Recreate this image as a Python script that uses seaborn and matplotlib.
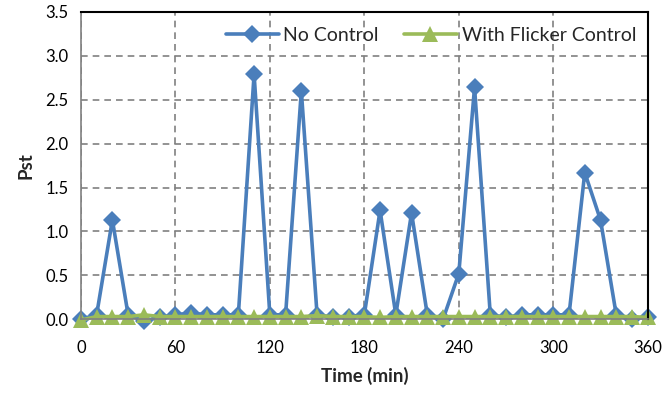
import matplotlib
matplotlib.use("Agg")
import matplotlib.pyplot as plt
import seaborn as sns
import pandas as pd
import numpy as np
from matplotlib.ticker import MultipleLocator

time_min = list(range(0, 361, 10))
no_control = [0.00, 0.05, 1.13, 0.05, -0.02, 0.02, 0.05, 0.07, 0.05, 0.05,
              0.05, 2.79, 0.05, 0.05, 2.60, 0.05, 0.02, 0.03, 0.05, 1.24,
              0.05, 1.21, 0.05, 0.00, 0.52, 2.64, 0.05, 0.02, 0.05, 0.05,
              0.05, 0.05, 1.67, 1.13, 0.05, 0.00, 0.03]
with_flicker = [-0.01, 0.03, 0.03, 0.03, 0.05, 0.03, 0.03, 0.03, 0.03, 0.03,
                0.03, 0.03, 0.03, 0.03, 0.03, 0.04, 0.03, 0.03, 0.03, 0.02,
                0.03, 0.03, 0.03, 0.03, 0.03, 0.03, 0.03, 0.03, 0.03, 0.03,
                0.03, 0.03, 0.03, 0.03, 0.03, 0.03, 0.02]
series_names = ["No Control", "With Flicker Control"]
x_ticks = [0, 60, 120, 180, 240, 300, 360]
y_ticks = [0.0, 0.5, 1.0, 1.5, 2.0, 2.5, 3.0, 3.5]

df = pd.DataFrame({
    "Time": time_min * 2,
    "Pst": no_control + with_flicker,
    "Series": [series_names[0]] * len(time_min) + [series_names[1]] * len(time_min),
})

sns.set_style("white")
plt.rcParams['font.family'] = ['Lato', 'DejaVu Sans']

fig = plt.figure(figsize=(6.63, 3.98), dpi=100)
ax = fig.add_axes([0.122, 0.198, 0.855, 0.772])

palette = {series_names[0]: "#4a7ebb", series_names[1]: "#9bbb59"}
sns.lineplot(data=df, x="Time", y="Pst", hue="Series", style="Series",
             markers={series_names[0]: "D", series_names[1]: "^"},
             dashes=False, palette=palette, linewidth=2.6, markersize=9,
             markeredgewidth=0, ax=ax, clip_on=False)
for ln in ax.lines:
    if ln.get_marker() == "^":
        ln.set_markersize(11)

ax.set_xlim(0, 360)
ax.set_ylim(0, 3.5)
ax.set_xticks(x_ticks)
ax.xaxis.set_minor_locator(MultipleLocator(10))
ax.set_yticks(y_ticks)
ax.set_yticklabels([f"{v:.1f}" for v in y_ticks])
ax.grid(True, which="major", color="#808080", linestyle=(0, (4, 3)), linewidth=1.2)
ax.set_axisbelow(True)

for s in ["top", "right"]:
    ax.spines[s].set_color("black")
    ax.spines[s].set_linewidth(1.5)
for s in ["left", "bottom"]:
    ax.spines[s].set_color("#808080")
    ax.spines[s].set_linewidth(1.2)

ax.tick_params(axis="both", which="major", labelsize=12, colors="black",
               length=5, width=1.2, direction="out")
ax.tick_params(axis="x", which="major", pad=10)
ax.tick_params(axis="y", which="major", color="#808080", pad=4)
ax.tick_params(axis="x", which="major", color="#808080")
ax.tick_params(axis="x", which="minor", length=4, width=1.2, color="#808080",
               direction="out")

ax.set_xlabel("Time (min)", fontsize=13.5, fontweight="bold", labelpad=8)
ax.set_ylabel("Pst", fontsize=13.5, fontweight="bold", labelpad=8)

leg = ax.legend(loc="upper right", bbox_to_anchor=(1.0, 0.99), ncol=2,
                frameon=False, fontsize=14, handlelength=2.7,
                columnspacing=1.3, handletextpad=0.25, borderaxespad=0.2)

fig.savefig("out.png", dpi=100)
